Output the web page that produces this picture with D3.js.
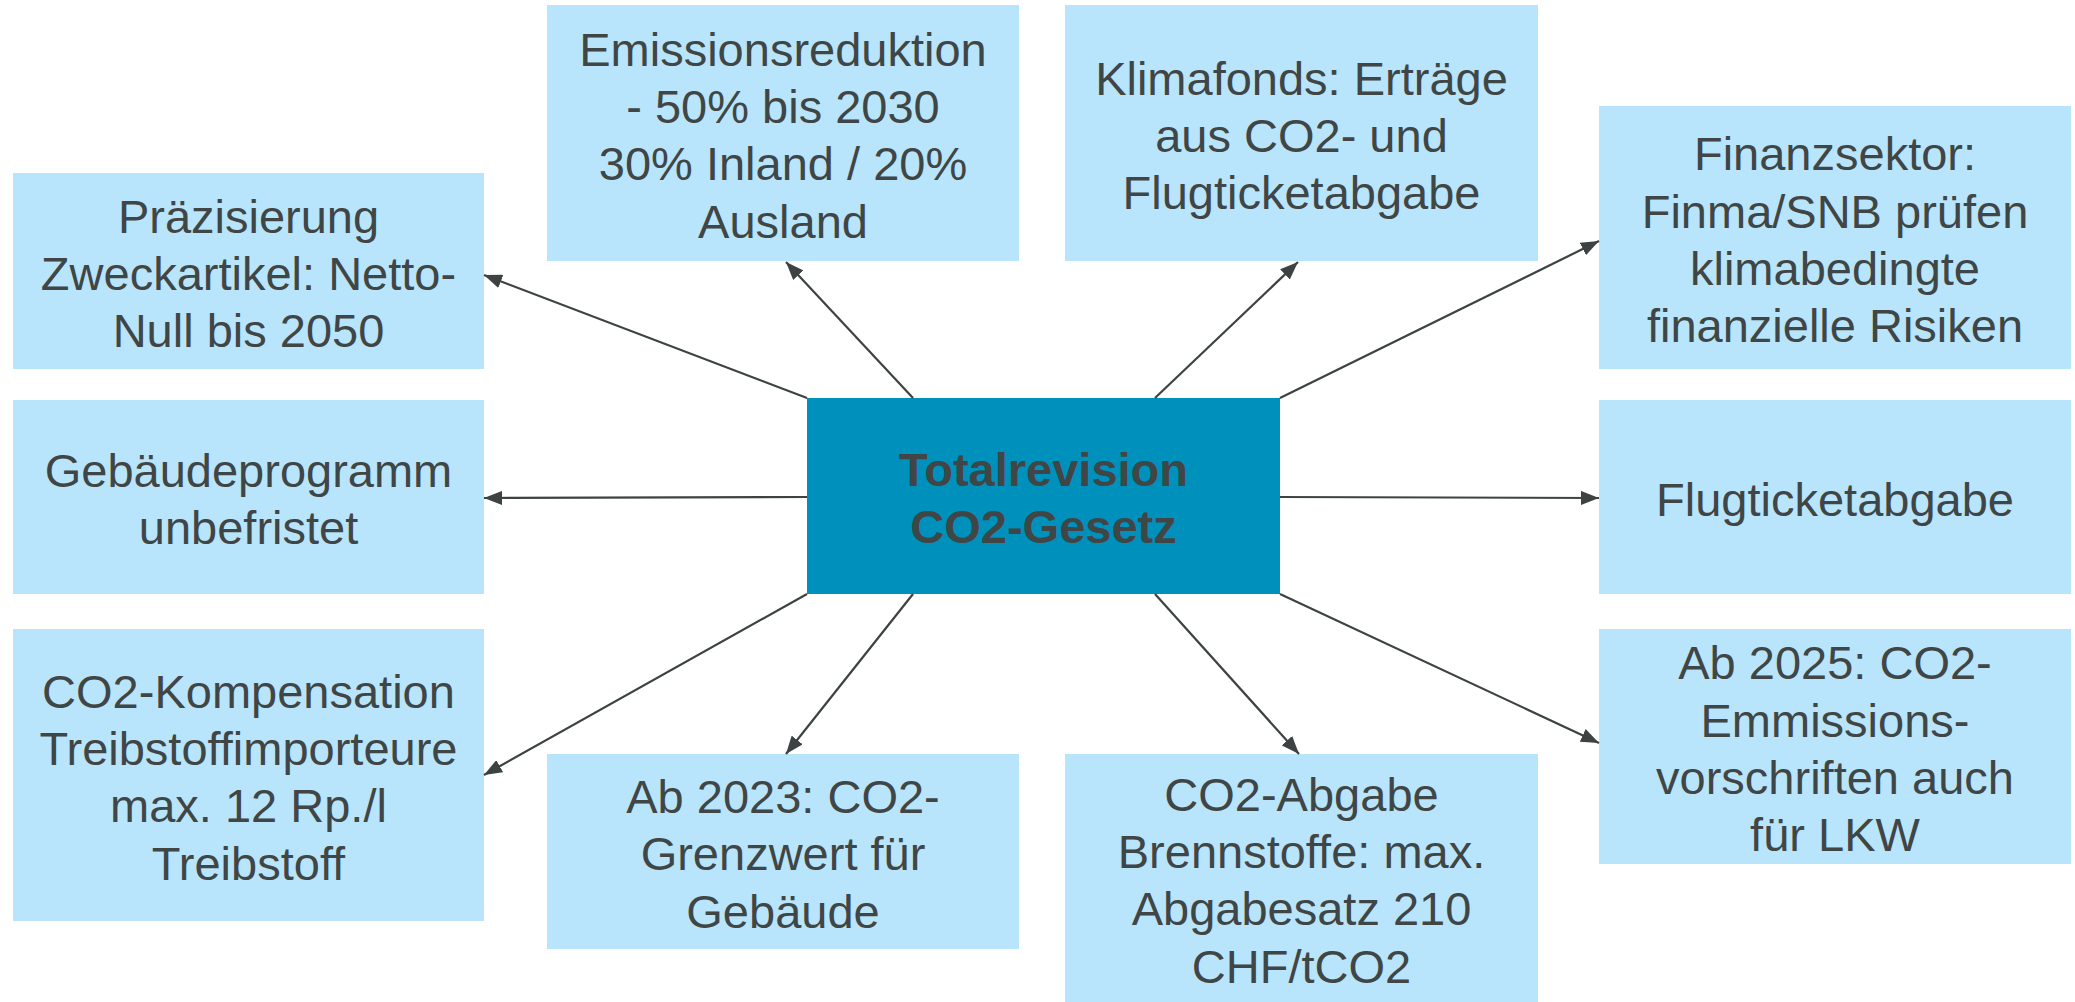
<!DOCTYPE html>
<meta charset="utf-8">
<script src="https://d3js.org/d3.v7.min.js"></script>
<style>
  body { margin: 0; background: #fff; }
</style>
<div id="my_dataviz"></div>
<script>

// node labels (first one is the hub)
var labels = [
  ["Totalrevision", "CO2-Gesetz"],
  ["Präzisierung", "Zweckartikel: Netto-", "Null bis 2050"],
  ["Emissionsreduktion", "- 50% bis 2030", "30% Inland / 20%", "Ausland"],
  ["Klimafonds: Erträge", "aus CO2- und", "Flugticketabgabe"],
  ["Finanzsektor:", "Finma/SNB prüfen", "klimabedingte", "finanzielle Risiken"],
  ["Gebäudeprogramm", "unbefristet"],
  ["Flugticketabgabe"],
  ["CO2-Kompensation", "Treibstoffimporteure", "max. 12 Rp./l", "Treibstoff"],
  ["Ab 2023: CO2-", "Grenzwert für", "Gebäude"],
  ["CO2-Abgabe", "Brennstoffe: max.", "Abgabesatz 210", "CHF/tCO2"],
  ["Ab 2025: CO2-", "Emmissions-", "vorschriften auch", "für LKW"]
];

// layout of the boxes (diagram units = pixels of the slide)
var boxX0 = [807, 13, 547, 1065, 1599, 13, 1599, 13, 547, 1065, 1599];
var boxX1 = [1280, 484, 1019, 1538, 2071, 484, 2071, 484, 1019, 1538, 2071];
var boxY0 = [398, 173, 5, 5, 106, 400, 400, 629, 754, 754, 629];
var boxY1 = [594, 369, 261, 261, 369, 594, 594, 921, 949, 1002, 864];

// arrows from hub to each node: start and tip
var arrowFrom = [[807, 398], [913, 398], [1155, 398], [1280, 398], [807, 497], [1280, 497], [807, 594], [913, 594], [1155, 594], [1280, 594]];
var arrowTo   = [[484, 275], [786, 262], [1298, 262], [1599, 241], [484, 498], [1599, 498], [484, 775], [786, 754], [1299, 754], [1599, 743]];
var arrowTarget = [1, 2, 3, 4, 5, 6, 7, 8, 9, 10];

var width = 2075, height = 1002;

var x = d3.scaleLinear().domain([0, 2075]).range([0, width]);
var y = d3.scaleLinear().domain([0, 1002]).range([0, height]);

var svg = d3.select("#my_dataviz")
  .append("svg")
    .attr("width", width)
    .attr("height", height);

svg.append("defs").append("marker")
    .attr("id", "arrow")
    .attr("markerUnits", "userSpaceOnUse")
    .attr("viewBox", "0 0 18 14")
    .attr("refX", 18)
    .attr("refY", 7)
    .attr("markerWidth", 18)
    .attr("markerHeight", 14)
    .attr("orient", "auto")
  .append("path")
    .attr("d", "M0,0 L18,7 L0,14 Z")
    .attr("fill", "#3d4242");

var nodes = labels.map(function(l, i) {
  return {lines: l, x0: boxX0[i], x1: boxX1[i], y0: boxY0[i], y1: boxY1[i], hub: i === 0};
});

// boxes
svg.selectAll("rect.box")
  .data(nodes)
  .enter()
  .append("rect")
    .attr("class", "box")
    .attr("x", function(d) { return x(d.x0); })
    .attr("y", function(d) { return y(d.y0); })
    .attr("width", function(d) { return x(d.x1) - x(d.x0); })
    .attr("height", function(d) { return y(d.y1) - y(d.y0); })
    .attr("fill", function(d) { return d.hub ? "#0090bc" : "#b8e5fc"; });

// arrows
var arrows = arrowFrom.map(function(f, i) { return {from: f, to: arrowTo[i], target: arrowTarget[i]}; });

svg.selectAll("line.arrow")
  .data(arrows)
  .enter()
  .append("line")
    .attr("class", "arrow")
    .attr("x1", function(d) { return x(d.from[0]); })
    .attr("y1", function(d) { return y(d.from[1]); })
    .attr("x2", function(d) { return x(d.to[0]); })
    .attr("y2", function(d) { return y(d.to[1]); })
    .attr("stroke", "#3d4242")
    .attr("stroke-width", 2.2)
    .attr("marker-end", "url(#arrow)");

// labels
var fontSize = 47, lineH = 57.3, capH = fontSize * 0.716;

var txt = svg.selectAll("text.lbl")
  .data(nodes)
  .enter()
  .append("text")
    .attr("class", "lbl")
    .attr("text-anchor", "middle")
    .attr("font-family", "'Liberation Sans', Arial, sans-serif")
    .attr("font-size", fontSize)
    .attr("font-weight", function(d) { return d.hub ? "bold" : "normal"; })
    .attr("fill", "#404545");

txt.selectAll("tspan")
  .data(function(d) {
    var cx = (x(d.x0) + x(d.x1)) / 2, cy = (y(d.y0) + y(d.y1)) / 2, n = d.lines.length;
    return d.lines.map(function(s, i) {
      return {s: s, x: cx, y: cy + capH / 2 + 2 + (i - (n - 1) / 2) * lineH};
    });
  })
  .enter()
  .append("tspan")
    .attr("x", function(d) { return d.x; })
    .attr("y", function(d) { return d.y; })
    .text(function(d) { return d.s; });

</script>
